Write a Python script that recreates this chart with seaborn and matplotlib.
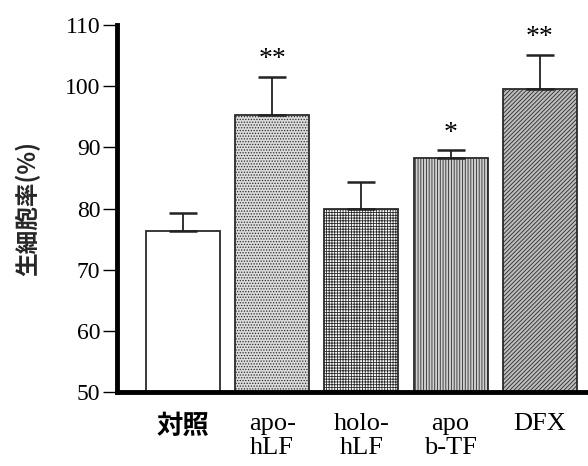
import pandas as pd
import matplotlib
matplotlib.use("Agg")
import matplotlib.pyplot as plt
import seaborn as sns

# data
groups = ['対照', 'apo-\nhLF', 'holo-\nhLF', 'apo\nb-TF', 'DFX']
viability = [76.3, 95.3, 79.9, 88.3, 99.5]
sem = [3.0, 6.2, 4.4, 1.2, 5.6]
marks = ['', '**', '', '*', '**']

face = ['white', '#dcdcdc', 'white', '#d0d0d0', '#bdbdbd']
hatches = ['', '......', '++++++', '||||||', '////////']

sns.set_theme(style='white')
plt.rcParams['font.family'] = ['Liberation Serif', 'Noto Sans CJK JP']
plt.rcParams['hatch.linewidth'] = 0.6
plt.rcParams['text.color'] = 'black'
plt.rcParams['xtick.color'] = 'black'
plt.rcParams['ytick.color'] = 'black'

df = pd.DataFrame({'group': groups, 'viability': viability})

fig = plt.figure(figsize=(5.88, 4.66), dpi=100)
ax = fig.add_axes([0.199, 0.159, 0.801, 0.787])

sns.barplot(data=df, x='group', y='viability', hue='group', palette=face,
            width=0.83, legend=False, ax=ax, edgecolor='#2a2a2a', linewidth=1.3)

for p, h in zip(ax.patches, hatches):
    p.set_hatch(h)

xs = list(range(len(groups)))
ax.errorbar(xs, viability, yerr=[[0] * len(sem), sem], fmt='none',
            ecolor='#222222', elinewidth=1.3, capsize=10, capthick=1.8, zorder=1)

for x, v, e, m in zip(xs, viability, sem, marks):
    if m:
        ax.text(x, v + e + 0.8, m, ha='center', va='bottom', fontsize=20,
                family='Liberation Serif')

ax.set_ylim(50, 110)
ax.set_xlim(-0.74, 4.54)
ax.set_yticks([50, 60, 70, 80, 90, 100, 110])
ax.set_xlabel('')
ax.set_ylabel('生細胞率(%)', family=['Noto Sans CJK JP'], fontweight='bold',
              fontsize=17, labelpad=18)

ax.tick_params(axis='y', direction='out', length=10, width=1, labelsize=17,
               left=True, pad=2)
ax.tick_params(axis='x', length=0, labelsize=19, pad=15)
for lbl in ax.get_xticklabels():
    lbl.set_verticalalignment('top')
    lbl.set_linespacing(1.15)
    if lbl.get_text() == '対照':
        lbl.set_family(['Noto Sans CJK JP'])
        lbl.set_fontweight('bold')
        lbl.set_fontsize(19)

for s in ['top', 'right']:
    ax.spines[s].set_visible(False)
ax.spines['left'].set_linewidth(3.5)
ax.spines['bottom'].set_linewidth(3.5)
ax.spines['left'].set_color('black')
ax.spines['bottom'].set_color('black')

fig.savefig('out.png', dpi=100)
